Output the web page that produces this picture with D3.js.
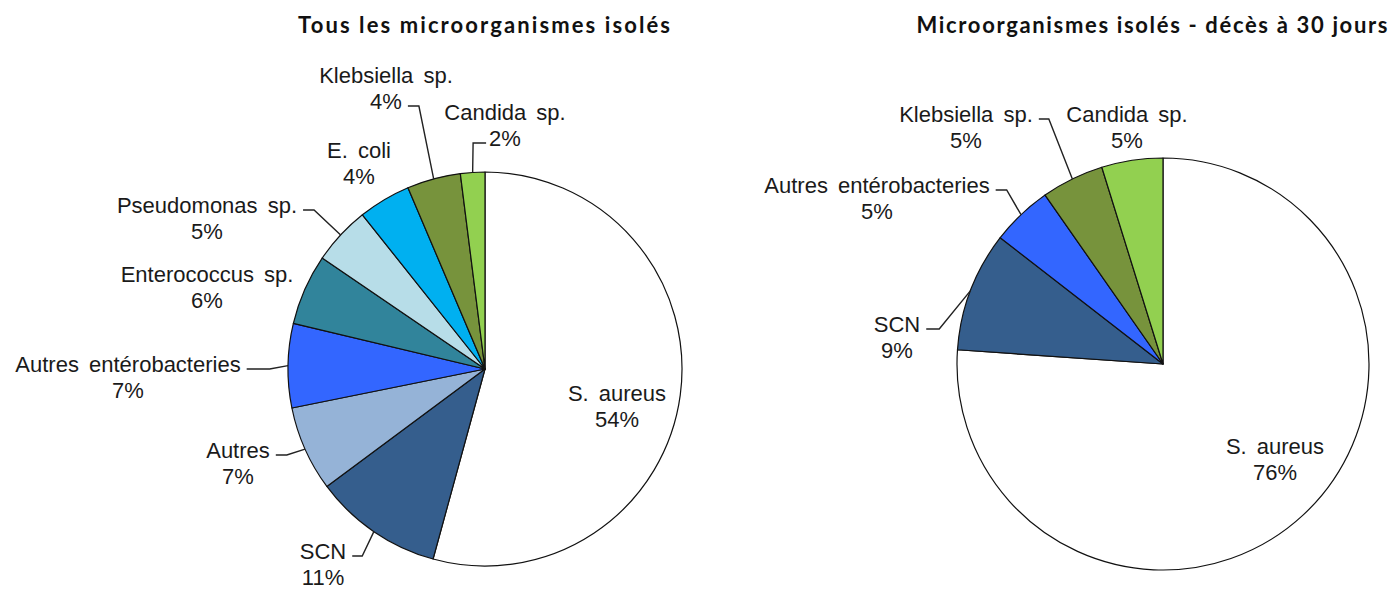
<!DOCTYPE html>
<html>
<head>
<meta charset="utf-8">
<script src="https://cdn.jsdelivr.net/npm/d3@7"></script>
<style>
  body { margin: 0; background: #fff; }
  svg text { font-family: "Liberation Sans", Arial, sans-serif; }
</style>
</head>
<body>
<div id="chart"></div>
<script>
// data
var leftTitle = "Tous les microorganismes isolés";
var leftNames = ["S. aureus", "SCN", "Autres", "Autres entérobacteries", "Enterococcus sp.",
                 "Pseudomonas sp.", "E. coli", "Klebsiella sp.", "Candida sp."];
var leftValues = [54.3, 10.6, 7.0, 6.9, 5.8, 4.8, 4.3, 4.4, 2.0];

var rightTitle = "Microorganismes isolés - décès à 30 jours";
var rightNames = ["S. aureus", "SCN", "Autres entérobacteries", "Klebsiella sp.", "Candida sp."];
var rightValues = [76.1, 9.4, 4.8, 4.9, 4.8];

// colours per organism
var colors = {
  "S. aureus": "#ffffff",
  "SCN": "#355e8d",
  "Autres": "#95b3d7",
  "Autres entérobacteries": "#3366ff",
  "Enterococcus sp.": "#31849b",
  "Pseudomonas sp.": "#b7dde8",
  "E. coli": "#00b0f0",
  "Klebsiella sp.": "#77933c",
  "Candida sp.": "#92d050"
};

// label placement: x = text centre, y = first baseline, lead = leader side + line, stub = length
var leftLabels = [
  { x: 617, y: 401 },
  { x: 323, y: 559, lead: "r", line: 0, stub: 10 },
  { x: 238, y: 458, lead: "r", line: 0, stub: 11 },
  { x: 128, y: 372, lead: "r", line: 0, stub: 23 },
  { x: 207, y: 282 },
  { x: 207, y: 213, lead: "r", line: 0, stub: 11 },
  { x: 359, y: 158 },
  { x: 386, y: 83, lead: "r", line: 1, stub: 11 },
  { x: 505, y: 120, lead: "l", line: 1, stub: 13 }
];
var rightLabels = [
  { x: 1275, y: 454 },
  { x: 897, y: 332, lead: "r", line: 0, stub: 13 },
  { x: 877, y: 193, lead: "r", line: 0, stub: 11 },
  { x: 966, y: 122, lead: "r", line: 0, stub: 10 },
  { x: 1127, y: 122 }
];

var width = 1393,
    height = 592;

var svg = d3.select('#chart')
  .append('svg')
  .attr('width', width)
  .attr('height', height);

var fmt = d3.format(".0%");

function drawPie(opts) {
  var g = svg.append('g');
  var total = d3.sum(opts.values);
  var rows = opts.names.map(function(n, i) { return { name: n, value: opts.values[i], pos: opts.labels[i] }; });

  var pie = d3.pie().sort(null).value(function(d) { return d.value; });
  var arc = d3.arc().innerRadius(0).outerRadius(opts.r);
  var edge = d3.arc().innerRadius(opts.r).outerRadius(opts.r);
  var arcs = pie(rows);

  var pg = g.append('g').attr('transform', 'translate(' + opts.cx + ',' + opts.cy + ')');
  pg.selectAll('path')
    .data(arcs)
    .enter()
    .append('path')
    .attr('d', arc)
    .attr('fill', function(d) { return colors[d.data.name]; })
    .attr('stroke', '#111')
    .attr('stroke-width', 1.2)
    .attr('stroke-linejoin', 'round');

  // title
  g.append('text')
    .attr('x', opts.titleX)
    .attr('y', 33)
    .attr('text-anchor', 'middle')
    .attr('textLength', opts.titleW)
    .attr('lengthAdjust', 'spacing')
    .style('font-family', 'Lato, "Open Sans", sans-serif')
    .style('font-weight', 'bold')
    .style('font-size', '22px')
    .style('fill', '#111')
    .text(opts.title);

  arcs.forEach(function(a) {
    var p = a.data.pos;
    var lines = [a.data.name, fmt(a.data.value / total)];
    var t = g.append('g');
    var widths = [];
    lines.forEach(function(s, k) {
      var el = t.append('text')
        .attr('x', p.x)
        .attr('y', p.y + k * 26)
        .attr('text-anchor', 'middle')
        .style('font-size', '22px')
        .style('word-spacing', '4px')
        .style('fill', '#1a1a1a')
        .text(s);
      widths.push(el.node().getComputedTextLength());
    });
    if (!p.lead) return;
    var ly = p.y + p.line * 26 - 3;
    var sx, ex;
    if (p.lead === 'r') {
      sx = p.x + widths[p.line] / 2 + 6;
      ex = sx + p.stub;
    } else {
      sx = p.x - widths[p.line] / 2 - 3;
      ex = sx - p.stub;
    }
    var c = edge.centroid(a);
    g.append('path')
      .attr('d', d3.line()([[sx, ly], [ex, ly], [opts.cx + c[0], opts.cy + c[1]]]))
      .attr('fill', 'none')
      .attr('stroke', '#222')
      .attr('stroke-width', 1.4);
  });
}

drawPie({ names: leftNames, values: leftValues, labels: leftLabels,
          cx: 485, cy: 369, r: 197, title: leftTitle, titleX: 484, titleW: 372 });
drawPie({ names: rightNames, values: rightValues, labels: rightLabels,
          cx: 1163, cy: 364, r: 206, title: rightTitle, titleX: 1152, titleW: 471 });
</script>
</body>
</html>
